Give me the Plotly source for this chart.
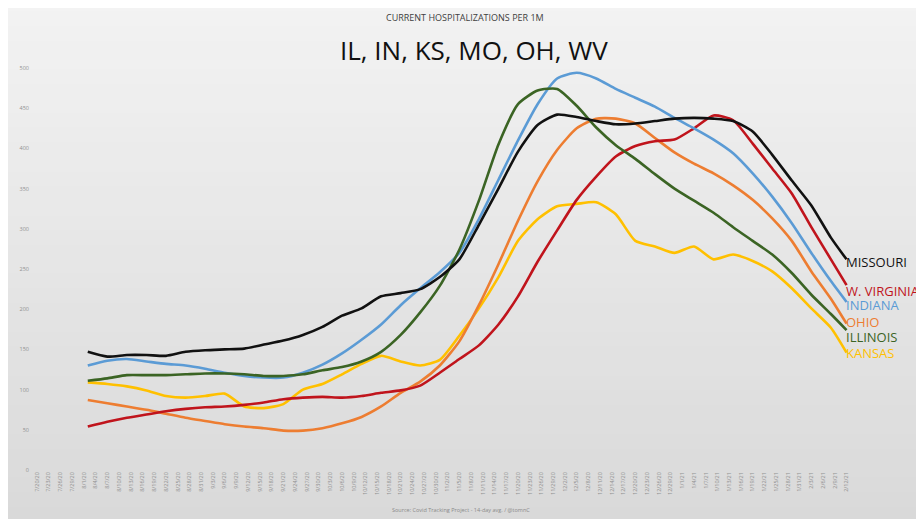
import datetime as dt
import plotly.graph_objects as go

# ---- data ----
start = dt.date(2020, 8, 2)
day_offsets = list(range(0, 191, 5)) + [194]
dates = [start + dt.timedelta(days=d) for d in day_offsets]

missouri = [147, 141, 143, 143, 142, 147, 149, 150, 151, 156, 161, 168, 178, 192, 201, 216,
            220, 225, 240, 262, 305, 350, 396, 429, 442, 439, 434, 430, 431, 434, 437, 438,
            437, 434, 421, 392, 360, 329, 289, 262]
w_virginia = [54, 60, 65, 69, 73, 76, 78, 79, 81, 84, 88, 90, 91, 90, 92, 96,
              99, 105, 121, 138, 155, 181, 216, 259, 298, 336, 365, 390, 403, 409, 411, 425,
              441, 435, 406, 375, 344, 302, 262, 230]
indiana = [130, 136, 138, 135, 132, 130, 126, 121, 117, 115, 115, 121, 131, 145, 162, 181,
           205, 226, 246, 270, 312, 361, 410, 455, 487, 494, 487, 474, 463, 452, 438, 425,
           411, 394, 369, 340, 307, 270, 235, 209]
ohio = [87, 83, 79, 75, 70, 65, 61, 57, 54, 52, 49, 49, 52, 58, 66, 79,
        96, 110, 130, 160, 205, 256, 310, 359, 398, 425, 437, 437, 431, 413, 395, 381,
        369, 354, 336, 313, 285, 247, 213, 182]
illinois = [111, 114, 118, 118, 118, 119, 120, 120, 119, 117, 117, 119, 124, 128, 135, 147,
            168, 196, 229, 274, 335, 405, 455, 472, 474, 453, 426, 404, 387, 368, 350, 335,
            320, 302, 285, 268, 245, 218, 194, 174]
kansas = [109, 107, 104, 99, 92, 90, 92, 95, 79, 77, 82, 100, 107, 119, 132, 142,
          135, 130, 137, 167, 201, 240, 285, 312, 328, 331, 333, 318, 285, 278, 270, 278,
          262, 268, 260, 247, 226, 201, 177, 146]

series_names = ["MISSOURI", "W. VIRGINIA", "INDIANA", "OHIO", "ILLINOIS", "KANSAS"]
series_values = [missouri, w_virginia, indiana, ohio, illinois, kansas]
series_colors = ["#111111", "#C0141C", "#5B9BD5", "#ED7D31", "#3B6424", "#FFC000"]
label_y = [259, 223, 205, 184, 165, 146]

y_ticks = [0, 50, 100, 150, 200, 250, 300, 350, 400, 450, 500]

fig = go.Figure()

order = [5, 3, 1, 2, 4, 0]
for i in order:
    fig.add_trace(go.Scatter(
        x=dates, y=series_values[i], mode="lines", name=series_names[i],
        line=dict(color=series_colors[i], width=2.6, shape="spline", smoothing=0.6),
        showlegend=False, hoverinfo="skip"))

# background gradient (light top -> darker bottom)
shapes = []
n = 40
y_lo, y_hi = -0.2, 1.25
for k in range(n):
    t = k / (n - 1)
    v = int(round(216 + (244 - 216) * t))
    shapes.append(dict(type="rect", xref="paper", yref="paper",
                       x0=-0.1, x1=1.2,
                       y0=y_lo + (y_hi - y_lo) * k / n,
                       y1=y_lo + (y_hi - y_lo) * (k + 1) / n + 0.002,
                       fillcolor=f"rgb({v},{v},{v})", line=dict(width=0), layer="below"))

annotations = []
for name, color, ly in zip(series_names, series_colors, label_y):
    annotations.append(dict(x=dates[-1], y=ly, xref="x", yref="y", text=name,
                            showarrow=False, xanchor="left", yanchor="middle", xshift=-3,
                            font=dict(family="Open Sans", size=13, color=color)))
annotations += [
    dict(x=0.524, y=1, xref="paper", yref="paper", yshift=51, text="CURRENT HOSPITALIZATIONS PER 1M",
         showarrow=False, xanchor="center", yanchor="middle",
         font=dict(family="Open Sans", size=9, color="#404040")),
    dict(x=0.535, y=1, xref="paper", yref="paper", yshift=18, text="IL, IN, KS, MO, OH, WV",
         showarrow=False, xanchor="center", yanchor="middle",
         font=dict(family="Open Sans", size=26, color="#111111")),
    dict(x=0.52, y=0, xref="paper", yref="paper", yshift=-40,
         text="Source: Covid Tracking Project - 14-day avg. / @tomnC",
         showarrow=False, xanchor="center", yanchor="middle",
         font=dict(family="Open Sans", size=5.5, color="#8a8a8a")),
]

x_left = dt.datetime(2020, 7, 19, 6)
x_right = dt.datetime(2021, 2, 14, 10)

fig.update_layout(
    width=916, height=511,
    margin=dict(l=22, r=68, t=60, b=49),
    paper_bgcolor="#e6e6e6", plot_bgcolor="rgba(0,0,0,0)",
    shapes=shapes, annotations=annotations,
    xaxis=dict(type="date", range=[x_left, x_right], tick0="2020-07-20",
               dtick=3 * 86400000, tickformat="%-m/%-d/%y", tickangle=-90,
               showgrid=False, zeroline=False, showline=False, ticks="",
               tickfont=dict(family="Open Sans", size=5.5, color="#909090")),
    yaxis=dict(range=[0, 500], tickvals=y_ticks, showgrid=False, zeroline=False,
               showline=False, ticks="", ticklabelstandoff=4,
               tickfont=dict(family="Open Sans", size=5.5, color="#909090")),
)

fig.write_html("out.html")
